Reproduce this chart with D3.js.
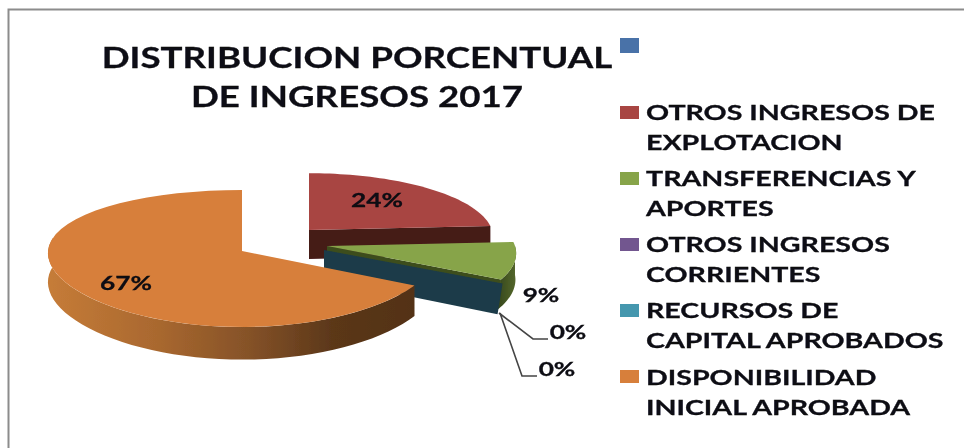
<!DOCTYPE html>
<html><head><meta charset="utf-8">
<script src="https://cdn.jsdelivr.net/npm/d3@7/dist/d3.min.js"></script>
<style>html,body{margin:0;background:#fff}svg{display:block}text{font-family:Lato,"Liberation Sans",sans-serif;font-weight:700;fill:#0a0a12;stroke:#0a0a12;stroke-width:.25px}</style>
</head><body><svg id="c" width="964" height="448"></svg>
<script>
const titleLines = ["DISTRIBUCION PORCENTUAL", "DE INGRESOS 2017"];
const categories = ["", "OTROS INGRESOS DE EXPLOTACION", "TRANSFERENCIAS Y APORTES", "OTROS INGRESOS CORRIENTES", "RECURSOS DE CAPITAL APROBADOS", "DISPONIBILIDAD INICIAL APROBADA"];
const legendLines = [[""], ["OTROS INGRESOS DE", "EXPLOTACION"], ["TRANSFERENCIAS Y", "APORTES"], ["OTROS INGRESOS", "CORRIENTES"], ["RECURSOS DE", "CAPITAL APROBADOS"], ["DISPONIBILIDAD", "INICIAL APROBADA"]];
const values = [0, 24, 9, 0, 0, 67];
const colors = ["#4a72a8", "#a84442", "#87a44a", "#72568f", "#4497ae", "#d77f3a"];

const svg = d3.select("#c");
const defs = svg.append("defs");
defs.append("filter").attr("id","soft").attr("x","-5%").attr("y","-5%").attr("width","110%").attr("height","110%")
  .append("feGaussianBlur").attr("stdDeviation",0.55);
const grad = defs.append("linearGradient").attr("id","rim").attr("gradientUnits","userSpaceOnUse")
  .attr("x1",47).attr("x2",414).attr("y1",0).attr("y2",0);
[[0,"#c67c38"],[0.3,"#a9682f"],[0.55,"#855228"],[0.78,"#5b3719"],[1,"#533217"]]
  .forEach(([o,c])=>grad.append("stop").attr("offset",o).attr("stop-color",c));
const gradG = defs.append("linearGradient").attr("id","rimG").attr("gradientUnits","userSpaceOnUse")
  .attr("x1",498).attr("x2",517).attr("y1",0).attr("y2",0);
gradG.append("stop").attr("offset",0).attr("stop-color","#36471c");
gradG.append("stop").attr("offset",1).attr("stop-color","#56692c");

const root = svg.append("g").attr("filter","url(#soft)");
root.append("path").attr("d","M8.5,448V9.5H964").attr("fill","none").attr("stroke","#8c8c8c").attr("stroke-width",2);

// pie layout, angles from d3
const arcs = d3.pie().value(d=>d).sort(null)(values);
const P = 0.1095, DEPTH = 29;
function project(c, theta){
  const u = Math.sin(theta), v = Math.cos(theta), s = 1/(1+P*v), sx = 1/(1+c.px*v);
  return [c.x + c.rx*u*sx, c.y - c.ry*v*s, s];
}
const curve = (c,a0,a1,drop=0,dx=0)=>d3.range(0,49).map(i=>{
  const p = project(c,a0+(a1-a0)*i/48); return [p[0]+dx*i/48,p[1]+drop*p[2]];
});
const line = d3.line();
const topFace = (c,a)=> line([[c.x,c.y],...curve(c,a.startAngle,a.endAngle)])+"Z";
const rimFace = (c,a0,a1,dx=0)=> line([...curve(c,a0,a1),...curve(c,a0,a1,DEPTH,dx).reverse()])+"Z";
const radial = (c,ang,depth=DEPTH,dx=0)=>{
  const p = project(c,ang);
  return line([[c.x,c.y],[p[0],p[1]],[p[0]+dx,p[1]+depth*p[2]],[c.x,c.y+depth]])+"Z";
};
const red = {x:309,y:230,rx:183,ry:63,px:P};
const green = {x:327,y:246,rx:188,ry:66,px:P};
const capital = {x:324,y:250,rx:193,ry:66,px:P};
const orange = {x:242,y:251,rx:194,ry:67.7,px:0.03};
const aRed=arcs[1], aGreen=arcs[2], aOrange=arcs[5];

root.append("path").attr("d",radial(red,aRed.endAngle)).attr("fill","#451a18");
root.append("path").attr("d",topFace(red,aRed)).attr("fill",colors[1]);
root.append("path").attr("d",rimFace(green,Math.PI/2,aGreen.endAngle,-4)).attr("fill","url(#rimG)");
root.append("path").attr("d",radial(green,aGreen.endAngle,6)).attr("fill","#3d4d1e");
root.append("path").attr("d",topFace(green,aGreen)).attr("fill",colors[2]);
root.append("path").attr("d",radial(capital,aGreen.endAngle,DEPTH,-5)).attr("fill","#1b3b48");
root.append("path").attr("d",rimFace(orange,aOrange.startAngle,1.5*Math.PI+0.2)).attr("fill","url(#rim)");
root.append("path").attr("d",topFace(orange,aOrange)).attr("fill",colors[5]);

// leaders
root.append("path").attr("d","M499,313L533,339H548").attr("fill","none").attr("stroke","#444").attr("stroke-width",1.6);
root.append("path").attr("d","M500,313L522,376H537").attr("fill","none").attr("stroke","#444").attr("stroke-width",1.6);

// labels
const pct = [null,{x:377,y:207},{x:541,y:302},{x:568,y:339},{x:557,y:376},{x:126,y:290}];
values.forEach((v,i)=>{ if(!pct[i])return;
  root.append("text").attr("transform",`translate(${pct[i].x},${pct[i].y}) scale(1.38,1)`)
    .attr("text-anchor","middle").attr("font-size",19).text(d3.format(".0%")(v/100));
});

// title
const titleY=[68,107];
titleLines.forEach((t,i)=>root.append("text").attr("transform",`translate(357,${titleY[i]}) scale(1.31,1)`)
  .attr("text-anchor","middle").attr("font-size",28).text(t));

// legend
const swatchY=[38,106,172,238,304,370];
const swatchH=[15,13,13,13,13,13];
const lineY=[[0],[120,150],[186,216],[252,282],[318,348],[385,415]];
categories.forEach((c,i)=>{
  root.append("rect").attr("x",620).attr("y",swatchY[i]).attr("width",19).attr("height",swatchH[i]).attr("fill",colors[i]);
  legendLines[i].forEach((t,j)=>{ if(!t)return;
    root.append("text").attr("transform",`translate(646,${lineY[i][j]}) scale(1.43,1)`).attr("font-size",20).text(t);
  });
});
</script></body></html>
